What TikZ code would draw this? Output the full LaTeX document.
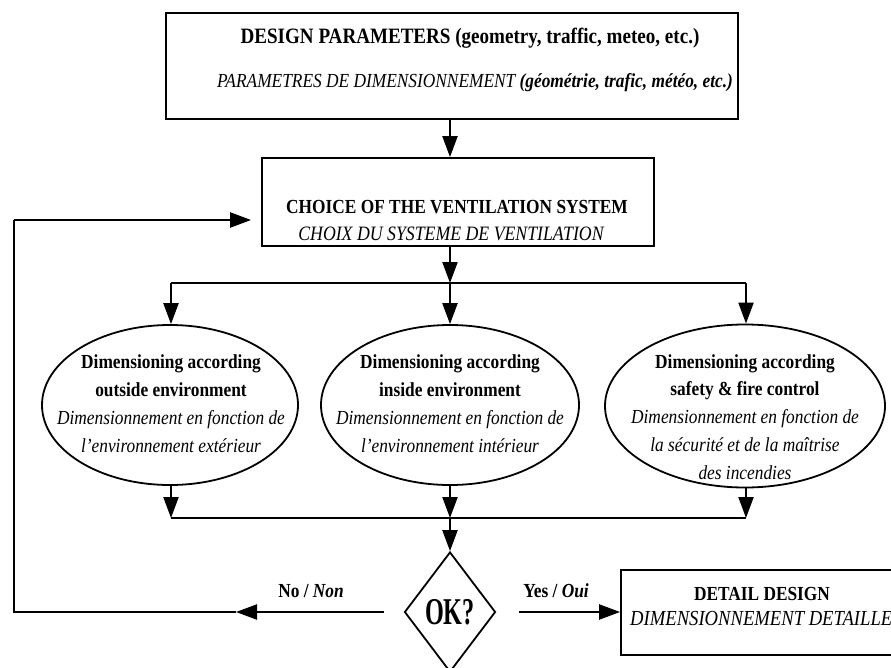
\documentclass[tikz,border=0pt]{standalone}
\usepackage{graphicx}
\usepackage{fontspec}
\setmainfont{Liberation Serif}[FakeStretch=0.87]
\usetikzlibrary{arrows.meta,shapes.geometric}
\begin{document}
\begin{tikzpicture}[x=1bp,y=-1bp,
  box/.style={draw,line width=1.8bp,rectangle,inner sep=0},
  ell/.style={draw,line width=1.8bp,ellipse,inner sep=0},
  conn/.style={line width=2.2bp},
  arr/.style={conn,-{Triangle[length=21bp,width=15bp]}},
  txt/.style={inner sep=0,anchor=base},
  etxt/.style={inner sep=0,align=center,font=\fontsize{20}{28}\selectfont},
]
\useasboundingbox (0,0) rectangle (891,668);
\clip (0,0) rectangle (891,668);

% top box
\node[box,minimum width=572bp,minimum height=106bp] (top) at (452,66) {};
\node[txt] (top1) at (470,44) {\fontsize{22}{26}\selectfont\bfseries DESIGN PARAMETERS (geometry, traffic, meteo, etc.)};
\node[txt] (top2) at (475,88) {\fontsize{20}{24}\selectfont\itshape PARAMETRES DE DIMENSIONNEMENT \bfseries(géométrie, trafic, météo, etc.)};

% choice box
\node[box,minimum width=392bp,minimum height=88bp] (choice) at (458,202) {};
\node[txt] (ch1) at (457,213) {\fontsize{20}{24}\selectfont\bfseries CHOICE OF THE VENTILATION SYSTEM};
\node[txt] (ch2) at (451,240) {\fontsize{20.5}{24}\selectfont\itshape CHOIX DU SYSTEME DE VENTILATION};

% ellipses
\node[ell,minimum width=256bp,minimum height=160bp] (e1) at (170,405) {};
\node[ell,minimum width=258bp,minimum height=160bp] (e2) at (450,405) {};
\node[ell,minimum width=280bp,minimum height=163bp] (e3) at (745,406) {};
\node[etxt] (t1) at (171,404) {\bfseries Dimensioning according\\\bfseries outside environment\\\itshape Dimensionnement en fonction de\\\itshape l’environnement extérieur};
\node[etxt] (t2) at (450,404) {\bfseries Dimensioning according\\\bfseries inside environment\\\itshape Dimensionnement en fonction de\\\itshape l’environnement intérieur};
\node[etxt] (t3) at (745,417) {\bfseries Dimensioning according\\\bfseries safety \& fire control\\\itshape Dimensionnement en fonction de\\\itshape la sécurité et de la maîtrise\\\itshape des incendies};

% diamond
\node[draw,diamond,line width=1.8bp,inner sep=0,minimum width=91bp,minimum height=120bp] (d) at (450,612) {};
\node[txt] (ok) at (450,624) {\scalebox{0.735}[1]{\fontsize{38}{40}\selectfont\bfseries OK?}};

% detail box
\node[box,minimum width=284bp,minimum height=85bp] (det) at (763,612.5) {};
\node[txt] (dt1) at (762,600) {\fontsize{20}{24}\selectfont\bfseries DETAIL DESIGN};
\node[txt,anchor=base west] (dt2) at (630,625) {\fontsize{21.5}{24}\selectfont\itshape DIMENSIONNEMENT DETAILLE};

% labels
\node[txt] (no) at (311,597) {\fontsize{20}{24}\selectfont\bfseries No / \itshape Non};
\node[txt] (yes) at (556,597) {\fontsize{20}{24}\selectfont\bfseries Yes / \itshape Oui};

% coordinates
\coordinate (br) at (450,283);
\coordinate (bl) at (171,283);
\coordinate (brr) at (746,283);
\coordinate (ml) at (171,518);
\coordinate (mm) at (450,518);
\coordinate (mr) at (746,518);
\coordinate (nt) at (236,612);
\coordinate (c1) at (14,612);
\coordinate (c2) at (14,220);

% connectors
\draw[arr] (top.south -| br) -- (choice.north -| br);
\draw[arr] (choice.south -| br) -- (br);
\draw[conn] (bl) -- (brr);
\draw[arr] (bl) -- (e1.north -| bl);
\draw[arr] (br) -- (e2.north);
\draw[arr] (brr) -- (e3.north -| brr);
\draw[arr] (e1.south -| ml) -- (ml);
\draw[arr] (e2.south) -- (mm);
\draw[arr] (e3.south -| mr) -- (mr);
\draw[conn] (ml) -- (mr);
\draw[arr] (mm) -- (d.north);
\draw[arr,shorten <=20bp] (d.west) -- (nt);
\draw[conn] (nt) -- (c1) -- (c2);
\draw[arr,shorten >=10bp] (c2) -- (c2 -| choice.west);
\draw[arr,shorten <=23bp] (d.east) -- (d.east -| det.west);
\end{tikzpicture}
\end{document}
